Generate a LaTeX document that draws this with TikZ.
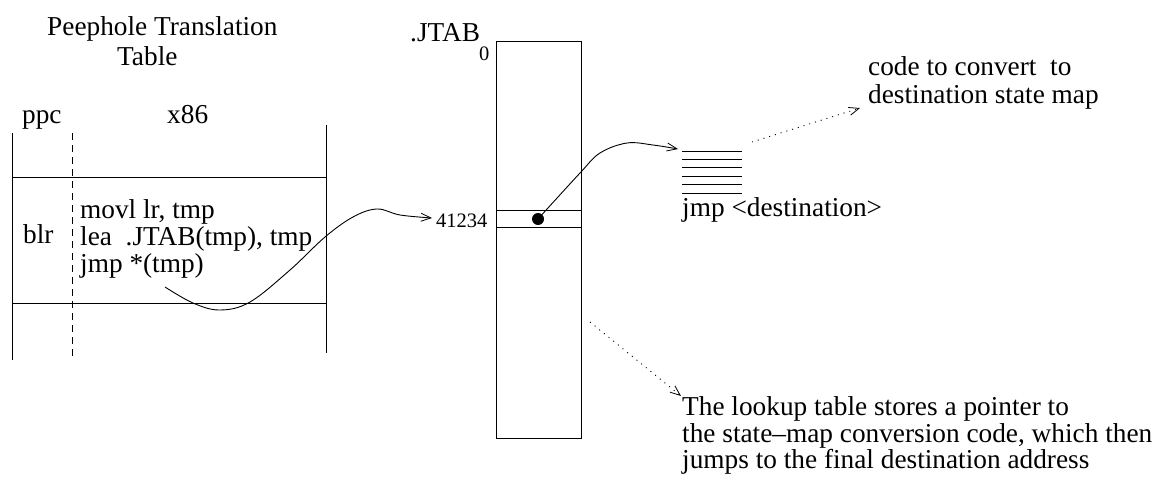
\documentclass[tikz,border=0pt]{standalone}
\usepackage{fontspec}
\setmainfont{Liberation Serif}
\usetikzlibrary{arrows.meta}
\tikzset{
  txt/.style={font=\fontsize{27.3}{29}\selectfont, inner sep=0pt, anchor=base west},
  num/.style={font=\fontsize{20.5}{22}\selectfont, inner sep=0pt, anchor=base west},
  thin/.style={line width=0.9pt},
  arr/.style={thin, -{Straight Barb[length=10pt,width=8pt,line width=0.8pt]}},
  dotarr/.style={line width=0.9pt, dash pattern=on 1pt off 5pt, -{Straight Barb[length=10pt,width=8pt,line width=0.8pt]}},
}
\begin{document}
\begin{tikzpicture}[x=1pt,y=-1pt]
\useasboundingbox (0,0) rectangle (1156,485);
% title
\node[txt] (title1) at (47,35) {Peephole Translation};
\node[txt] (title2) at (117,65) {Table};
% left table
\node[txt] (ppc) at (22,123) {ppc};
\node[txt] (x86) at (167,123) {x86};
\draw[thin] (12,133) -- (12,360);
\draw[thin] (326,125) -- (326,353);
\draw[thin, dash pattern=on 7pt off 5pt] (72,133) -- (72,360);
\draw[thin] (12,177) -- (326,177);
\draw[thin] (12,303) -- (326,303);
\node[txt] (blr) at (23,243) {blr};
\node[txt] (code1) at (80,218) {movl lr, tmp};
\node[txt] (code2) at (80,245) {lea\ \ .JTAB(tmp), tmp};
\node[txt] (code3) at (80,272) {jmp *(tmp)};
\coordinate (jstart) at (165,287);
% JTAB column
\node[txt] (jtab) at (410,41) {.JTAB};
\node[num] (zero) at (479,60) {0};
\draw[thin] (496,41) rectangle (581,438);
\draw[thin] (496,210) -- (581,210);
\draw[thin] (496,227) -- (581,227);
\node[num] (addr) at (436,227) {41234};
\node[circle, fill=black, inner sep=0pt, minimum size=12pt] (dot) at (538,219) {};
% destination code stack
\foreach \yy in {151,159.4,167.8,176.2,184.6,193} {
  \draw[thin] (682,\yy) -- (742,\yy);
}
\coordinate (stacktop) at (678,149);
\node[txt] (jmpdest) at (682,216) {jmp <destination>};
\node[txt] (conv1) at (868,75) {code to convert\ \ to};
\node[txt] (conv2) at (868,103) {destination state map};
\node[txt] (note1) at (682,415) {The lookup table stores a pointer to};
\node[txt] (note2) at (682,442) {the state--map conversion code, which then};
\node[txt] (note3) at (682,468) {jumps to the final destination address};
% connectors
\draw[arr] plot[smooth, tension=0.6] coordinates {(jstart) (193,303) (220,310) (250,302) (290,270) (325,237) (353,217) (377,209) (400,215) (432,218)};
\draw[arr] plot[smooth, tension=0.6] coordinates {(dot.center) (580,173) (600,153) (627,143) (653,145) (678,149)};
\coordinate (d1s) at (752,142);
\draw[dotarr] (d1s) -- (860,108);
\coordinate (d2s) at (590,322);
\draw[dotarr] (d2s) -- (681,396);
\end{tikzpicture}
\end{document}
